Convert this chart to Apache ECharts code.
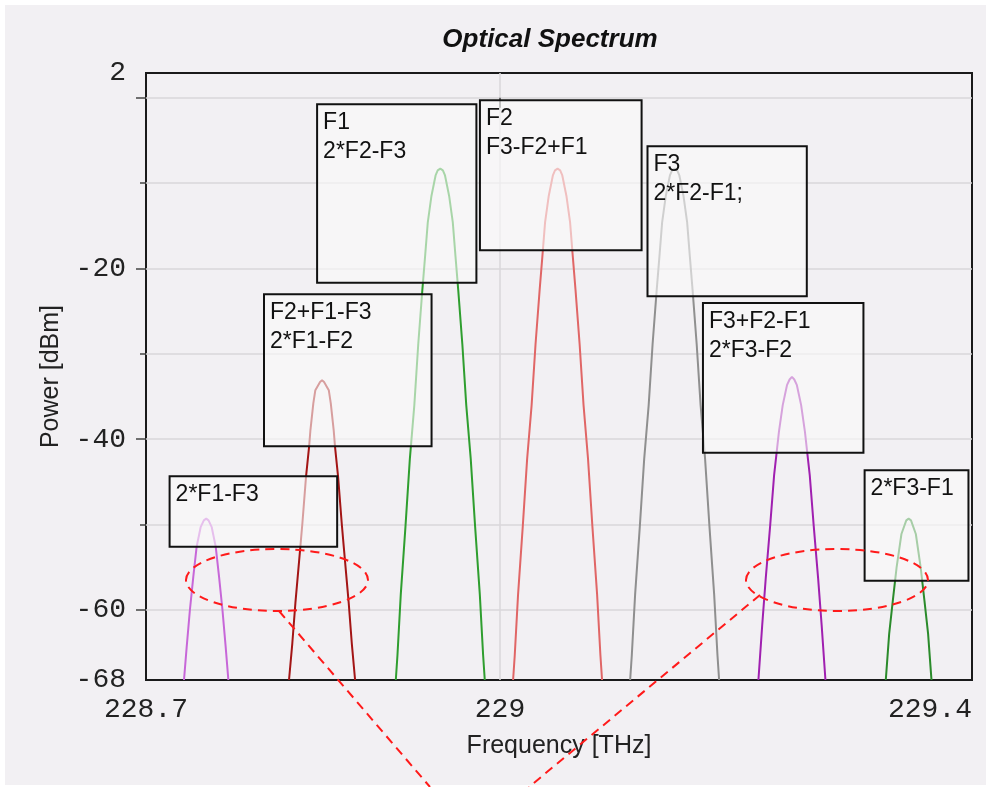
<!DOCTYPE html>
<html><head><meta charset="utf-8">
<script src="https://cdn.jsdelivr.net/npm/echarts@6/dist/echarts.min.js"></script>
<style>
html,body{margin:0;padding:0;background:#fff;}
#bg{position:absolute;left:5px;top:5px;width:981px;height:780px;background:#f2f0f3;}
#chart{position:absolute;left:0;top:0;width:986px;height:787px;}
</style></head><body>
<div id="bg"></div><div id="chart"></div>
<script>
// ---- texts ----
const chartTitle = 'Optical Spectrum';
const xName = 'Frequency [THz]';
const yName = 'Power [dBm]';
const xLabelValues = [228.7, 229, 229.4];
const xTickLabels = ['228.7', '229', '229.4'];
const yLabelValues = [2.9, -20, -40, -60, -68.2];
const yTickLabels = ['2', '-20', '-40', '-60', '-68'];
const yMajorTicks = [0, -20, -40, -60];
const yMinorTicks = [-10, -30, -50];
const xMajorTicks = [229];

// ---- spectral lines: [frequency THz, power dBm] ----
const line2F1mF3 = [[228.7322,-68.2],[228.7345,-64.3],[228.7372,-60.0],[228.7401,-56.1],[228.7429,-52.6],[228.7463,-50.3],[228.7490,-49.5],[228.7510,-49.3],[228.7530,-49.5],[228.7557,-50.3],[228.7591,-52.6],[228.7619,-56.1],[228.7648,-60.0],[228.7675,-64.3],[228.7698,-68.2]];
const lineF2pF1mF3 = [[228.8212,-68.2],[228.8240,-63.9],[228.8266,-59.2],[228.8308,-52.6],[228.8325,-49.9],[228.8356,-44.4],[228.8382,-40.9],[228.8393,-39.0],[228.8418,-35.8],[228.8435,-34.25],[228.8475,-33.3],[228.8492,-33.1],[228.8509,-33.3],[228.8549,-34.25],[228.8566,-35.8],[228.8591,-39.0],[228.8602,-40.9],[228.8628,-44.4],[228.8659,-49.9],[228.8676,-52.6],[228.8718,-59.2],[228.8744,-63.9],[228.8772,-68.2]];
const lineF1 = [[228.9117,-68.2],[228.9131,-65.3],[228.9159,-58.2],[228.9199,-50.2],[228.9236,-42.3],[228.9274,-36.0],[228.9307,-28.9],[228.9342,-22.5],[228.9365,-18.6],[228.9388,-14.6],[228.9419,-11.5],[228.9454,-9.1],[228.9472,-8.5],[228.9494,-8.3],[228.9516,-8.5],[228.9534,-9.1],[228.9569,-11.5],[228.9600,-14.6],[228.9623,-18.6],[228.9646,-22.5],[228.9681,-28.9],[228.9714,-36.0],[228.9752,-42.3],[228.9789,-50.2],[228.9829,-58.2],[228.9857,-65.3],[228.9871,-68.2]];
const lineF2 = [[229.0111,-68.2],[229.0125,-65.3],[229.0153,-58.2],[229.0193,-50.2],[229.0230,-42.3],[229.0268,-36.0],[229.0301,-28.9],[229.0336,-22.5],[229.0359,-18.6],[229.0382,-14.6],[229.0413,-11.5],[229.0448,-9.1],[229.0466,-8.5],[229.0488,-8.3],[229.0510,-8.5],[229.0528,-9.1],[229.0563,-11.5],[229.0594,-14.6],[229.0617,-18.6],[229.0640,-22.5],[229.0675,-28.9],[229.0708,-36.0],[229.0746,-42.3],[229.0783,-50.2],[229.0823,-58.2],[229.0851,-65.3],[229.0865,-68.2]];
const lineF3 = [[229.1103,-68.2],[229.1117,-65.3],[229.1145,-58.2],[229.1185,-50.2],[229.1222,-42.3],[229.1260,-36.0],[229.1293,-28.9],[229.1328,-22.5],[229.1351,-18.6],[229.1374,-14.6],[229.1405,-11.5],[229.1440,-9.1],[229.1458,-8.5],[229.1480,-8.3],[229.1502,-8.5],[229.1520,-9.1],[229.1555,-11.5],[229.1586,-14.6],[229.1609,-18.6],[229.1632,-22.5],[229.1667,-28.9],[229.1700,-36.0],[229.1738,-42.3],[229.1775,-50.2],[229.1815,-58.2],[229.1843,-65.3],[229.1857,-68.2]];
const lineF3pF2mF1 = [[229.2190,-68.2],[229.2222,-61.8],[229.2252,-56.3],[229.2289,-50.2],[229.2323,-44.2],[229.2364,-39.1],[229.2396,-36.0],[229.2432,-33.67],[229.2454,-33.0],[229.2474,-32.7],[229.2494,-33.0],[229.2516,-33.67],[229.2552,-36.0],[229.2584,-39.1],[229.2625,-44.2],[229.2659,-50.2],[229.2696,-56.3],[229.2726,-61.8],[229.2758,-68.2]];
const line2F3mF1 = [[229.3269,-68.2],[229.3271,-67.9],[229.3298,-62.8],[229.3329,-58.9],[229.3361,-55.0],[229.3402,-51.1],[229.3443,-49.5],[229.3463,-49.3],[229.3483,-49.5],[229.3524,-51.1],[229.3565,-55.0],[229.3597,-58.9],[229.3628,-62.8],[229.3655,-67.9],[229.3657,-68.2]];

const seriesNames = ['2*F1-F3', 'F2+F1-F3', 'F1', 'F2', 'F3', 'F3+F2-F1', '2*F3-F1'];
const seriesData = [line2F1mF3, lineF2pF1mF3, lineF1, lineF2, lineF3, lineF3pF2mF1, line2F3mF1];

// ---- annotation box texts ----
const boxTexts = ['F1\n2*F2-F3', 'F2\nF3-F2+F1', 'F3\n2*F2-F1;', 'F2+F1-F3\n2*F1-F2', 'F3+F2-F1\n2*F3-F2', '2*F1-F3', '2*F3-F1'];

// ---- layout / style (not data) ----
const seriesColors = ['#c767d8', '#a31515', '#2f9e2f', '#e06666', '#8f8f8f', '#a020b0', '#2b8b2b'];
// box corners in axis units: [x1, yTop, x2, yBottom]
const boxLayout = [
  [228.845, -0.76, 228.980, -21.67],
  [228.983, -0.29, 229.120, -17.86],
  [229.125, -5.68, 229.260, -23.24],
  [228.800, -23.01, 228.942, -40.81],
  [229.172, -24.03, 229.308, -41.59],
  [228.720, -44.32, 228.862, -52.60],
  [229.309, -43.62, 229.397, -56.58]
];
const redDash = {stroke:'#ff1a1a', lineWidth:2, lineDash:[9,6], fill:'transparent'};

const chart = echarts.init(document.getElementById('chart'), null, {renderer:'canvas'});
const gridLine = {show:true, lineStyle:{color:'#d8d7da', width:1.5}};
const monoLabel = {fontFamily:'Liberation Mono', fontSize:28, color:'#222'};
const nameStyle = {fontFamily:'Liberation Sans', fontSize:25, color:'#222'};

const option = {
  backgroundColor:'transparent',
  animation:false,
  title:{text:chartTitle, left:545, top:22, textAlign:'center',
    textStyle:{fontFamily:'Liberation Sans', fontStyle:'italic', fontWeight:'bold', fontSize:26, color:'#111'}},
  grid:{left:146, right:14, top:73, bottom:107, show:true, borderColor:'#1a1a1a', borderWidth:2,
    backgroundColor:'transparent', outerBoundsMode:'none', containLabel:false},
  xAxis:{type:'value', min:228.7, max:229.4,
    name:xName, nameLocation:'middle', nameGap:54, nameTextStyle:nameStyle,
    axisLine:{show:false},
    axisTick:{show:true, length:10, customValues:xMajorTicks, lineStyle:{color:'#444', width:1.5}},
    axisLabel:Object.assign({customValues:xLabelValues, margin:16, alignMaxLabel:'right',
      formatter:(v)=>{const i=xLabelValues.findIndex(a=>Math.abs(a-v)<1e-6);return i>=0?xTickLabels[i]:'';}}, monoLabel),
    splitLine:gridLine},
  yAxis:[{type:'value', min:-68.2, max:2.9, position:'left',
    name:yName, nameLocation:'middle', nameGap:82, nameRotate:90, nameTextStyle:nameStyle,
    axisLine:{show:false},
    axisTick:{show:true, length:10, customValues:yMajorTicks, lineStyle:{color:'#444', width:1.5}},
    axisLabel:Object.assign({customValues:yLabelValues, margin:20,
      formatter:(v)=>{const i=yLabelValues.findIndex(a=>Math.abs(a-v)<1e-6);return i>=0?yTickLabels[i]:'';}}, monoLabel),
    splitLine:gridLine},
   {type:'value', min:-68.2, max:2.9, position:'left',
    axisLine:{show:false}, axisLabel:{show:false},
    axisTick:{show:true, length:6, customValues:yMinorTicks, lineStyle:{color:'#444', width:1.5}},
    splitLine:gridLine}],
  series: seriesData.map((d,i)=>({
    type:'line', name:seriesNames[i], data:d, symbol:'none', showSymbol:false,
    lineStyle:{color:seriesColors[i], width:2}, itemStyle:{color:seriesColors[i]},
    z:2, clip:true, animation:false, silent:true
  })).concat([{
    type:'custom', name:'labels', z:5, silent:true, clip:false,
    data: boxLayout,
    renderItem:(params, api)=>{
      const p1 = api.coord([api.value(0), api.value(1)]);
      const p2 = api.coord([api.value(2), api.value(3)]);
      return {type:'group', children:[
        {type:'rect', shape:{x:p1[0], y:p1[1], width:p2[0]-p1[0], height:p2[1]-p1[1]},
          style:{fill:'rgba(250,250,250,0.6)', stroke:'#111', lineWidth:2}},
        {type:'text', x:p1[0]+6, y:p1[1]+4,
          style:{text:boxTexts[params.dataIndex], fontFamily:'Liberation Sans', fontSize:23,
            lineHeight:29, fill:'#111', align:'left', verticalAlign:'top'}}
      ]};
    }
  }]),
  graphic:[
    {type:'ellipse', shape:{cx:277, cy:580, rx:91, ry:31}, style:redDash, z:100, silent:true},
    {type:'ellipse', shape:{cx:837, cy:580, rx:91, ry:31}, style:redDash, z:100, silent:true},
    {type:'line', shape:{x1:279, y1:611, x2:430, y2:787}, style:redDash, z:100, silent:true},
    {type:'line', shape:{x1:760, y1:595, x2:529, y2:787}, style:redDash, z:100, silent:true}
  ]
};
chart.setOption(option);
</script>
</body></html>
